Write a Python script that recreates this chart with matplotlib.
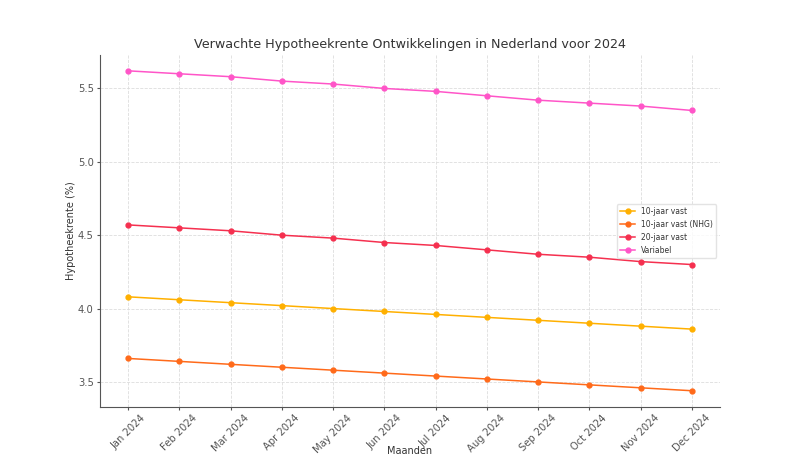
import matplotlib
matplotlib.use("Agg")
import matplotlib.pyplot as plt

months = ["Jan 2024", "Feb 2024", "Mar 2024", "Apr 2024", "May 2024", "Jun 2024",
          "Jul 2024", "Aug 2024", "Sep 2024", "Oct 2024", "Nov 2024", "Dec 2024"]
vast10 = [4.08, 4.06, 4.04, 4.02, 4.00, 3.98, 3.96, 3.94, 3.92, 3.90, 3.88, 3.86]
vast10_nhg = [3.66, 3.64, 3.62, 3.60, 3.58, 3.56, 3.54, 3.52, 3.50, 3.48, 3.46, 3.44]
vast20 = [4.57, 4.55, 4.53, 4.50, 4.48, 4.45, 4.43, 4.40, 4.37, 4.35, 4.32, 4.30]
variabel = [5.62, 5.60, 5.58, 5.55, 5.53, 5.50, 5.48, 5.45, 5.42, 5.40, 5.38, 5.35]

series = [("10-jaar vast", vast10, "#FFB000"),
          ("10-jaar vast (NHG)", vast10_nhg, "#FF6A1A"),
          ("20-jaar vast", vast20, "#F5304F"),
          ("Variabel", variabel, "#FF55C8")]

fig = plt.figure(figsize=(8, 4.57), dpi=100)
ax = fig.add_subplot(111)
x = list(range(len(months)))
for name, vals, c in series:
    ax.plot(x, vals, color=c, marker="o", markersize=3.5, linewidth=1.1, label=name)

ax.set_xticks(x)
ax.set_xticklabels(months, rotation=45, fontsize=7.2, color="#333333")
ax.tick_params(axis="y", labelsize=7.2, labelcolor="#333333")
ax.tick_params(colors="#555555", length=2.5, pad=2)
ax.set_yticks([3.5, 4.0, 4.5, 5.0, 5.5])
ax.set_title("Verwachte Hypotheekrente Ontwikkelingen in Nederland voor 2024",
             fontsize=9.2, color="#333333", pad=5)
ax.set_xlabel("Maanden", fontsize=7, color="#333333", labelpad=-6)
ax.set_ylabel("Hypotheekrente (%)", fontsize=7, color="#333333", labelpad=1)
ax.grid(True, linestyle="--", color="#dddddd", linewidth=0.6)
for s in ["top", "right"]:
    ax.spines[s].set_visible(False)
for s in ["left", "bottom"]:
    ax.spines[s].set_color("#555555")
leg = ax.legend(loc="center right", fontsize=5.5, framealpha=0.8, edgecolor="#dddddd",
                labelcolor="#333333")
fig.savefig("out.png", dpi=100)
